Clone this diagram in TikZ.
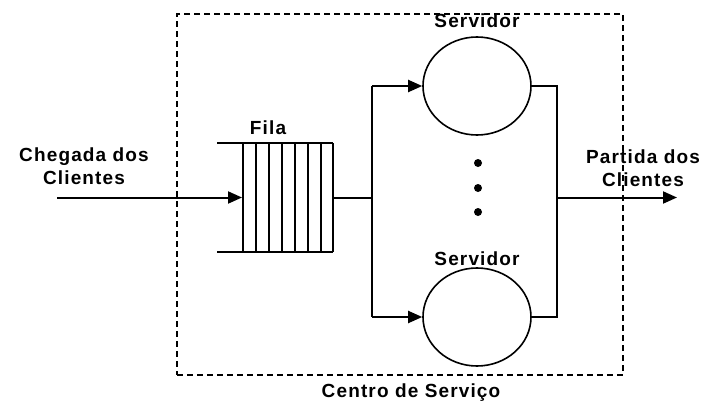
\documentclass[tikz,border=0pt]{standalone}
\usepackage{fontspec}
\setmainfont[LetterSpace=6]{Liberation Sans}
\usetikzlibrary{arrows.meta,shapes.geometric}
\begin{document}
\begin{tikzpicture}[x=1pt,y=-1pt,>={Triangle[length=14pt,width=12pt]},line width=2pt,
 font=\fontsize{19}{23}\selectfont\bfseries,
 servidor/.style={draw,ellipse,line width=1.6pt,minimum width=108pt,minimum height=98pt,inner sep=0pt},
 ponto/.style={fill,circle,minimum size=8pt,inner sep=0pt}]
\useasboundingbox (0,0) rectangle (713,410);
\node[draw,dashed,line width=1.5pt,dash pattern=on 6pt off 4pt,minimum width=446pt,minimum height=361pt,inner sep=0pt] (centro) at(400,194.5){};
\node[minimum width=90pt,minimum height=109pt,inner sep=0pt] (fila) at(288,197.5){};
\draw (217,143)--(333,143); \draw (217,252)--(333,252);
\foreach \qx in {243,256,269,282,295,308,321,333} \draw (\qx,143)--(\qx,252);
\node[servidor] (srvA) at(477,86){}; \node[servidor] (srvB) at(477,317){};
\node[ponto] (pA) at(478,163){}; \node[ponto] (pB) at(478,188){}; \node[ponto] (pC) at(478,212){};
\coordinate (entrada) at(57,197.5); \coordinate (saida) at(677,197.5);
\coordinate (ramoA) at(372,86); \coordinate (ramoB) at(372,317);
\coordinate (juntaA) at(557,86); \coordinate (juntaB) at(557,317);
\draw[->] (entrada)--(fila.west);
\draw (fila.east)--(fila.east -| ramoA); \draw (ramoA)--(ramoB);
\draw[->] (ramoA)--(srvA.west); \draw[->] (ramoB)--(srvB.west);
\draw (srvA.east)--(juntaA)--(juntaB)--(srvB.east);
\draw[->] (saida -| juntaA)--(saida);
\node (tFila) at(268,128){Fila};
\node (tSrvA) at(477,21){Servidor}; \node (tSrvB) at(477,259){Servidor};
\node[align=center] (tChegada) at(84,166){Chegada dos\\Clientes};
\node[align=center] (tPartida) at(643,168){Partida dos\\Clientes};
\node (tCentro) at(411,393){Centro de Serviço};
\end{tikzpicture}
\end{document}
